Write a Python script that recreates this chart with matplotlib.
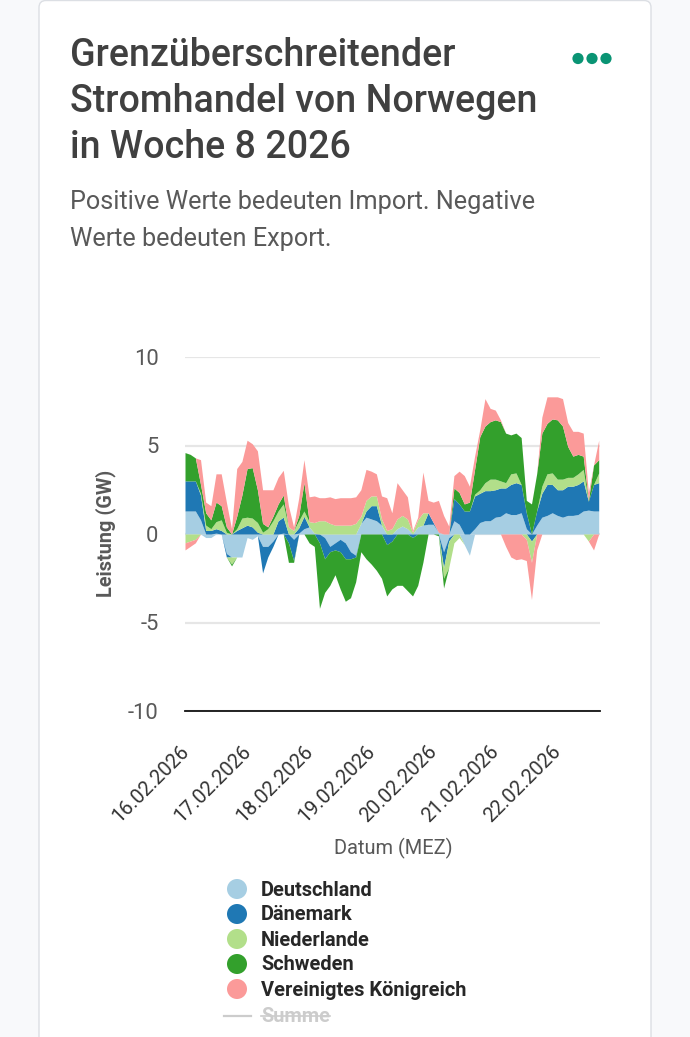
import numpy as np
import matplotlib
matplotlib.use("Agg")
import matplotlib.pyplot as plt
from matplotlib.lines import Line2D
from matplotlib.patches import FancyBboxPatch, Circle
from matplotlib.transforms import ScaledTranslation

W, H = 690, 1037

days = ["16.02.2026", "17.02.2026", "18.02.2026", "19.02.2026", "20.02.2026", "21.02.2026", "22.02.2026"]
yticks = [10, 5, 0, -5, -10]
names = ["Deutschland", "Dänemark", "Niederlande", "Schweden", "Vereinigtes Königreich"]
colors = ["#a6cee3", "#1f78b4", "#b2df8a", "#33a02c", "#fb9a99"]

# two hour steps, GW
de = [1.3,1.3,1.3,.8,-.2,-.2,.05,0,-1.1,-1.3,-1.3,-1.3,-.2,-.3,-.1,-.7,-.7,-.4,0,.05,
      0,-.3,.05,.3,.4,.05,0,-.2,-.7,-.5,-.3,-.5,-1,-1.2,.6,.95,.85,.75,.5,0,
      0,.3,.45,.3,0,.4,.5,.55,.55,.1,-1,-.2,.75,.55,-.6,-1.2,.3,.65,.75,.75,
      .95,1,1.2,1.1,1.1,1.2,.3,0,.5,.95,1.05,1.2,1.05,.95,1.05,1.05,1.1,1.3,1.35,1.3,1.3]
dk = [1.7,1.7,1.7,1.4,.2,.2,.25,.2,-.2,0,.2,.35,.5,.4,.1,-1.5,-.6,-.3,.75,.9,
      -.5,-1.2,.3,.7,0,0,-.5,-1.2,-.3,-.4,-.7,-.9,-.4,-.1,0,.35,.75,.85,0,-.6,
      -.4,0,0,0,-.2,0,0,.65,.1,0,-.9,-.2,1.25,1.15,1.3,1.3,1.85,1.65,1.7,1.7,
      1.55,1.6,1.4,1.7,1.8,1.6,.9,-.4,.8,1.35,1.75,1.6,1.45,1.55,1.65,1.65,1.7,1.7,.5,1.5,1.6]
nl = [-.5,-.4,-.3,.1,.3,.1,.4,.6,.1,-.4,.1,.55,.45,.5,.55,.1,.3,.75,.55,.75,
      .4,.2,.4,.3,.3,.6,.75,.75,.6,.5,.5,.5,.5,.6,.4,.6,.55,.55,.35,.2,
      .3,.55,.6,.55,.1,.4,.7,0,0,0,-.6,-1.5,-.5,-.2,0,0,.1,.2,.45,.65,
      .6,.4,.3,.6,.55,0,-.3,-1.2,0,.4,.6,.65,.6,.6,.5,.5,.6,.65,-.4,0,.55]
se = [1.6,1.5,1.3,.5,.7,.5,1.1,.8,.3,-.1,.7,1.3,2.75,2.85,1.85,.5,.1,.25,.4,.5,
      -1.1,-.1,.3,1.6,-.5,-.7,-3.7,-1.9,-1.9,-1.4,-2.1,-2.4,-2.2,-1.4,-1,-1.4,-1.7,-2.05,-2.5,-2.9,
      -2.7,-2.9,-2.9,-3.2,-3.3,-2.9,-1.6,0,0,-.1,-.55,0,.6,.65,.4,.5,1.4,3,3.2,3.25,
      3.35,3.35,2.8,2.2,2.25,2.65,.7,1.7,2.1,3,2.85,3.05,3.35,3,1.75,1.2,1.1,.75,.05,1.1,.75]
uk = [-.4,-.3,-.2,1.4,.6,.8,1.6,1.8,1.4,.3,2.7,1.9,1.6,1.35,2.2,1.9,2.1,1.5,1.5,1.4,
      1.2,.2,1.0,1.3,1.4,1.5,1.3,1.3,1.5,1.5,1.55,1.55,1.55,1.5,1.5,1.75,1.4,1.25,1.3,1.85,
      .9,2.05,1.45,1.25,.1,.15,2.3,.7,1.15,1.8,1.05,.45,.7,1.2,1.6,.9,.75,.4,1.55,.75,
      .55,.1,-.7,-1.3,-1.45,-1.4,-1.2,-2.1,-.9,.9,1.5,1.25,1.3,1.55,1.35,1.4,1.3,1.3,.45,-.9,1.1]
series = [de, dk, nl, se, uk]

plt.rcParams["font.family"] = ["Roboto", "DejaVu Sans"]

fig = plt.figure(figsize=(W / 100, H / 100), dpi=100, facecolor="#f8f9fb")

# card behind everything, in pixel coordinates
bg = fig.add_axes([0, 0, 1, 1])
bg.set_xlim(0, W)
bg.set_ylim(H, 0)
bg.axis("off")
bg.add_patch(FancyBboxPatch((39, 0.5), 612, H + 60, boxstyle="round,pad=0,rounding_size=7",
                            fc="white", ec="#dcdfe4", lw=1))
for cx in [578, 592, 606]:
    bg.add_patch(Circle((cx, 58.5), 5.6, fc="#0a9474", ec="none"))

for line, y in zip(["Grenzüberschreitender", "Stromhandel von Norwegen", "in Woche 8 2026"], [56, 102, 148]):
    bg.text(70.5, y, line, fontsize=27.1, fontweight="medium", color="#404040", va="center")
for line, y in zip(["Positive Werte bedeuten Import. Negative", "Werte bedeuten Export."], [202, 239]):
    bg.text(70.5, y, line, fontsize=18.2, color="#595959", va="center")

# legend
legend_y = [889, 914, 939, 964, 989]
for name, col, y in zip(names, colors, legend_y):
    bg.add_patch(Circle((237, y), 10, fc=col, ec="none"))
    bg.text(261, y + 1, name, fontsize=14.4, fontweight="bold", color="#272727", va="center")
bg.add_line(Line2D([224, 251], [1015.5, 1015.5], color="#cccccc", lw=1.6))
bg.text(261, 1016, "Summe", fontsize=14.4, fontweight="bold", color="#cccccc", va="center")
bg.add_line(Line2D([261, 330], [1016, 1016], color="#cccccc", lw=1.2))

ax = fig.add_axes([185 / W, 1 - 711 / H, 415 / W, 354 / H])
# each value sits in the middle of its two hour step
hours = np.arange(len(de)) * 2.0 + 1
pos = np.zeros(len(hours))
neg = np.zeros(len(hours))
for vals, col in zip(series, colors):
    v = np.array(vals)
    up = np.clip(v, 0, None)
    down = np.clip(v, None, 0)
    ax.fill_between(hours, pos, pos + up, color=col, lw=0, zorder=3)
    ax.fill_between(hours, neg, neg + down, color=col, lw=0, zorder=3)
    pos += up
    neg += down

ax.set_xlim(1, 161.5)
ax.set_ylim(-10, 10)
ax.set_yticks(yticks)
ax.set_yticklabels(["10", "5", "0", "-5", "-10"])
ax.set_xticks(np.arange(len(days)) * 24 + 1)
ax.set_xticklabels(days, rotation=45, ha="right", va="center", rotation_mode="anchor")
ax.grid(axis="y", color="#e6e6e6", lw=1.6, zorder=0)
ax.set_axisbelow(True)
ax.tick_params(length=0)
ax.tick_params(axis="y", labelsize=15.8, labelcolor="#595959", pad=19)
ax.tick_params(axis="x", labelsize=14.4, labelcolor="#333333", pad=27)
shift = ScaledTranslation(1 / 100, 0, fig.dpi_scale_trans)
for lab in ax.get_xticklabels():
    lab.set_transform(lab.get_transform() + shift)
for s in ["top", "left", "right"]:
    ax.spines[s].set_visible(False)
ax.spines["bottom"].set_color("#111111")
ax.spines["bottom"].set_linewidth(1.3)

bg.text(106, 533, "Leistung (GW)", rotation=90, fontsize=14.3, fontweight="bold",
        color="#595959", ha="center", va="center")
bg.text(393, 848, "Datum (MEZ)", fontsize=14.4, color="#595959", ha="center", va="center")

fig.savefig("out.png", dpi=100, facecolor=fig.get_facecolor())
